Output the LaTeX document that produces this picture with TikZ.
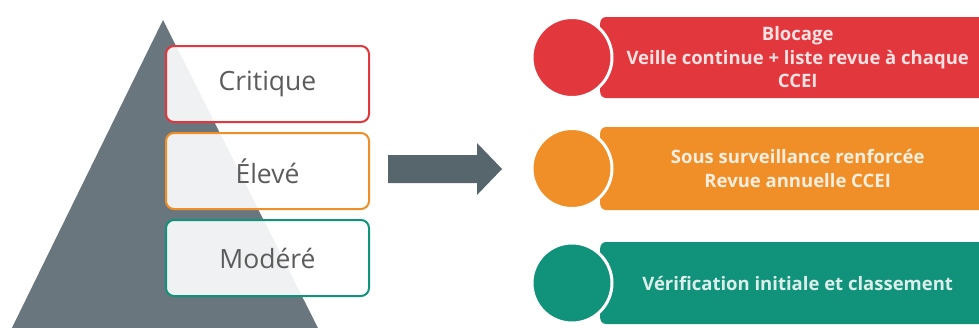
\documentclass[tikz,border=0pt]{standalone}
\usepackage{fontspec}
\setmainfont{Open Sans}
\usetikzlibrary{positioning}

\definecolor{critred}{HTML}{E2373D}
\definecolor{highorange}{HTML}{F08F27}
\definecolor{modgreen}{HTML}{11927A}
\definecolor{slate}{HTML}{6A767E}
\definecolor{arrowslate}{HTML}{57656D}
\definecolor{labelgray}{HTML}{5C5C5C}

\tikzset{
  level/.style={draw=#1, line width=2, rounded corners=8, fill=white,
    fill opacity=0.9, text opacity=1, text=labelgray,
    minimum width=203, minimum height=76,
    font=\fontsize{26.5}{30}\selectfont},
  band/.style={fill=#1, rounded corners=6, anchor=west,
    minimum width=395, inner sep=0, text=white, text opacity=0.85,
    align=center, font=\bfseries\fontsize{18.5}{23.5}\selectfont},
  disc/.style={circle, fill=#1, draw=white, line width=3,
    minimum size=80, inner sep=0}
}

\begin{document}
\begin{tikzpicture}[x=1pt,y=-1pt]
        \useasboundingbox (0,0) rectangle (979,327);

        % Pyramid
        \path [fill=slate] (163,20) -- (6,340) -- (324,340) -- cycle;

        % Levels
        \node [level=critred] (crit) at (267.5,84) {Critique};
        \node [level=highorange, below=9pt of crit] (high) {Élevé};
        \node [level=modgreen, below=9pt of high] (mod) {Modéré};

        % Arrow
        \path [fill=arrowslate] (388,155) -- (477,155) -- (477,143) --
            (502,169) -- (477,195) -- (477,183) -- (388,183) -- cycle;

        % Actions
        \node [band=critred, minimum height=81] (blocbar) at (600,57.5)
            {Blocage\\Veille continue + liste revue à chaque\\CCEI};
        \node [band=highorange, minimum height=83] (highbar) at (600,168.5)
            {Sous surveillance renforcée\\Revue annuelle CCEI};
        \node [band=modgreen, minimum height=82] (modbar) at (600,283)
            {Vérification initiale et classement};

        \node [disc=critred] (blocdot) at ([xshift=-28]blocbar.west) {};
        \node [disc=highorange] (highdot) at ([xshift=-28]highbar.west) {};
        \node [disc=modgreen] (moddot) at ([xshift=-28]modbar.west) {};
    \end{tikzpicture}
\end{document}
